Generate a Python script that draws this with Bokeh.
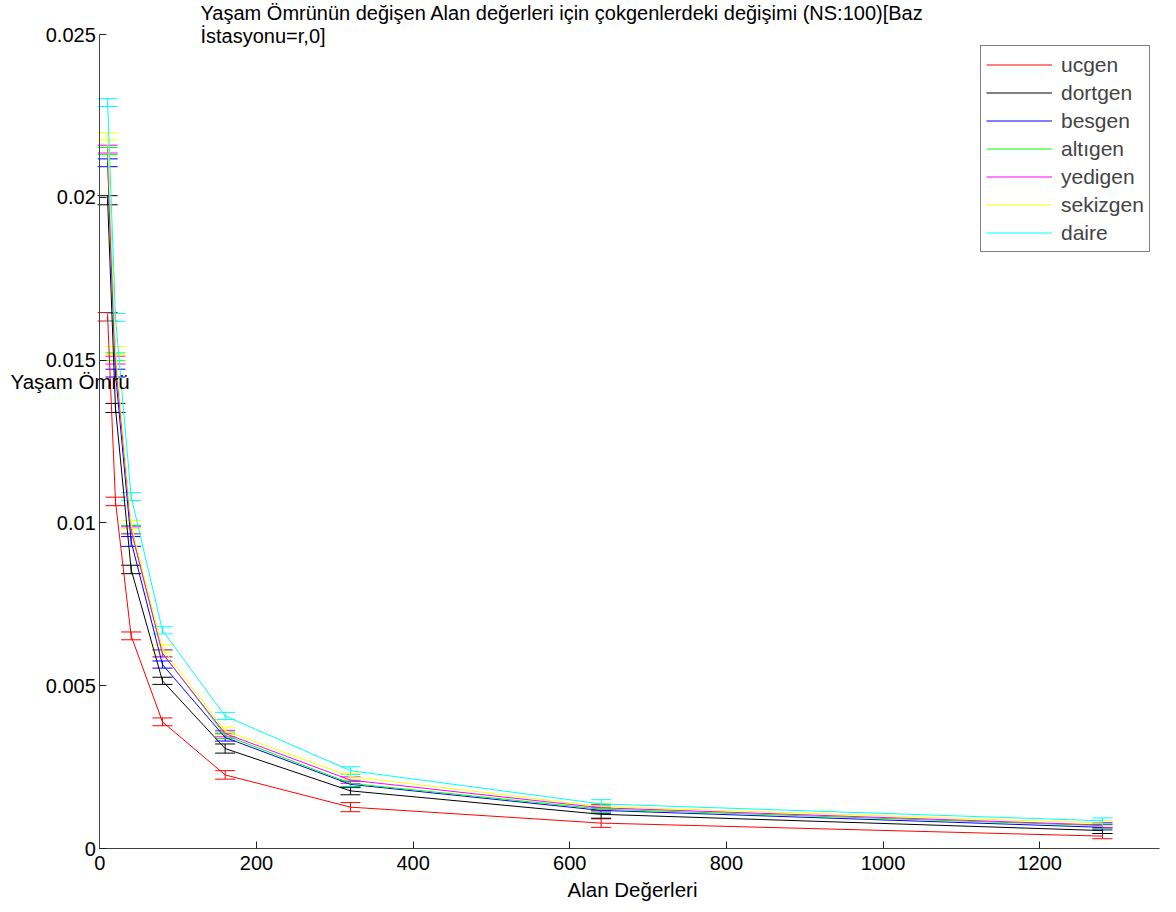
from bokeh.plotting import figure
from bokeh.models import (ColumnDataSource, Whisker, TeeHead, Label, Legend,
                          LegendItem, Range1d, FixedTicker)
from bokeh.embed import file_html
from bokeh.resources import INLINE

# Alan değerleri (x) and mean lifetime per polygon type, with error half-widths
alan = [10, 20, 40, 80, 160, 320, 640, 1280]

ucgen = [0.01633, 0.01066, 0.00653, 0.00389, 0.00226, 0.00127, 0.00078, 0.00038]
dortgen = [0.01991, 0.01353, 0.00857, 0.00515, 0.00307, 0.00177, 0.00105, 0.00055]
besgen = [0.02106, 0.01460, 0.00943, 0.00565, 0.00341, 0.00197, 0.00117, 0.00065]
altigen = [0.02142, 0.01510, 0.00980, 0.00600, 0.00348, 0.00200, 0.00121, 0.00070]
yedigen = [0.02148, 0.01500, 0.00977, 0.00599, 0.00353, 0.00210, 0.00125, 0.00072]
sekizgen = [0.02187, 0.01529, 0.00995, 0.00614, 0.00362, 0.00221, 0.00129, 0.00078]
daire = [0.02291, 0.01631, 0.01081, 0.00670, 0.00407, 0.00239, 0.00137, 0.00085]

err_ucgen = [0.00013, 0.00013, 0.00012, 0.00012, 0.00013, 0.00014, 0.00013, 0.00008]
err_dortgen = [0.00014, 0.00014, 0.00013, 0.00011, 0.00014, 0.00012, 0.00012, 0.00009]
err_besgen = [0.00012, 0.00012, 0.00015, 0.00011, 0.00011, 0.00010, 0.00010, 0.00008]
err_altigen = [0.00011, 0.00012, 0.00012, 0.00010, 0.00010, 0.00010, 0.00010, 0.00008]
err_yedigen = [0.00012, 0.00012, 0.00011, 0.00011, 0.00010, 0.00010, 0.00010, 0.00008]
err_sekizgen = [0.00011, 0.00013, 0.00012, 0.00011, 0.00011, 0.00010, 0.00010, 0.00008]
err_daire = [0.00012, 0.00012, 0.00012, 0.00011, 0.00011, 0.00012, 0.00013, 0.00009]

series_names = ["ucgen", "dortgen", "besgen", "altıgen", "yedigen", "sekizgen", "daire"]
series_values = [ucgen, dortgen, besgen, altigen, yedigen, sekizgen, daire]
series_errors = [err_ucgen, err_dortgen, err_besgen, err_altigen, err_yedigen,
                 err_sekizgen, err_daire]
series_colors = ["#ff0000", "#000000", "#0000ff", "#00ff00", "#ff00ff", "#ffff00", "#00ffff"]

x_ticks = [0, 200, 400, 600, 800, 1000, 1200]
y_ticks = [0, 0.005, 0.01, 0.015, 0.02, 0.025]
y_tick_labels = {0: "0", 0.005: "0.005", 0.01: "0.01", 0.015: "0.015",
                 0.02: "0.02", 0.025: "0.025"}

FONT = "Liberation Sans"
FS_TICK = "20px"
FS_TITLE = "20px"
FS_LABEL = "20.5px"
FS_LEGEND = "21px"

W, H = 1176, 912
# axes box (pixels on the canvas) and its data limits
AX_LEFT, AX_BOTTOM = 99.3, 848.0
X_MIN, X_MAX = 0, 1353
Y_MIN, Y_MAX = 0, 0.025
PX_PER_X = 0.7833
PX_PER_Y = 32560.0


def px_to_x(px):
    return (px - AX_LEFT) / PX_PER_X


def py_to_y(py):
    return (AX_BOTTOM - py) / PX_PER_Y


# the frame spans the whole canvas; axes are pinned at x=0 / y=0
p = figure(width=W, height=H, output_backend="svg", toolbar_location=None,
           x_range=Range1d(px_to_x(0), px_to_x(W)),
           y_range=Range1d(py_to_y(H), py_to_y(0)),
           min_border=0, min_border_left=0, min_border_right=0,
           min_border_top=0, min_border_bottom=0)
p.outline_line_color = None
p.grid.visible = False
p.background_fill_color = "white"
p.border_fill_color = "white"

for ax in (p.xaxis[0], p.yaxis[0]):
    ax.fixed_location = 0
    ax.axis_line_color = "#404040"
    ax.major_tick_line_color = "#202020"
    ax.major_tick_in = 7
    ax.major_tick_out = 0
    ax.minor_tick_line_color = None
    ax.major_label_text_font = FONT
    ax.major_label_text_font_size = FS_TICK
    ax.major_label_text_color = "black"

p.xaxis[0].bounds = (X_MIN, X_MAX)
p.xaxis[0].ticker = FixedTicker(ticks=x_ticks)
p.xaxis[0].major_label_standoff = 7
p.yaxis[0].bounds = (Y_MIN, Y_MAX)
p.yaxis[0].ticker = FixedTicker(ticks=y_ticks)
p.yaxis[0].major_label_overrides = y_tick_labels
p.yaxis[0].major_label_standoff = 4

legend_items = []
for name, vals, errs, col in zip(series_names, series_values, series_errors, series_colors):
    src = ColumnDataSource(dict(
        x=alan, y=vals,
        lo=[v - e for v, e in zip(vals, errs)],
        hi=[v + e for v, e in zip(vals, errs)],
    ))
    r = p.line("x", "y", source=src, line_color=col, line_width=1)
    w = Whisker(source=src, base="x", lower="lo", upper="hi",
                line_color=col, line_width=1,
                upper_head=TeeHead(size=20, line_color=col, line_width=1),
                lower_head=TeeHead(size=20, line_color=col, line_width=1))
    p.add_layout(w)
    legend_items.append(LegendItem(label=name, renderers=[r]))

legend = Legend(items=legend_items, location=(980, H - 252),
                label_text_font=FONT, label_text_font_size=FS_LEGEND,
                glyph_width=66, glyph_height=27, label_height=27,
                label_standoff=9, spacing=1, padding=5, margin=0,
                border_line_color="black", border_line_width=1,
                background_fill_color="white", background_fill_alpha=1)
p.add_layout(legend)

title_lines = [
    "Yaşam Ömrünün değişen Alan değerleri için çokgenlerdeki değişimi (NS:100)[Baz",
    "İstasyonu=r,0]",
]
for i, line in enumerate(title_lines):
    p.add_layout(Label(x=px_to_x(200), y=py_to_y(12 + 23 * i), text=line,
                       text_font=FONT, text_font_size=FS_TITLE, text_color="black",
                       text_baseline="middle", text_align="left"))

p.add_layout(Label(x=px_to_x(10), y=py_to_y(381), text="Yaşam Ömrü",
                   text_font=FONT, text_font_size=FS_LABEL, text_color="black",
                   text_baseline="middle", text_align="left"))
p.add_layout(Label(x=px_to_x(632), y=py_to_y(889), text="Alan Değerleri",
                   text_font=FONT, text_font_size=FS_LABEL, text_color="black",
                   text_baseline="middle", text_align="center"))

open("out.html", "w").write(file_html(p, INLINE))
